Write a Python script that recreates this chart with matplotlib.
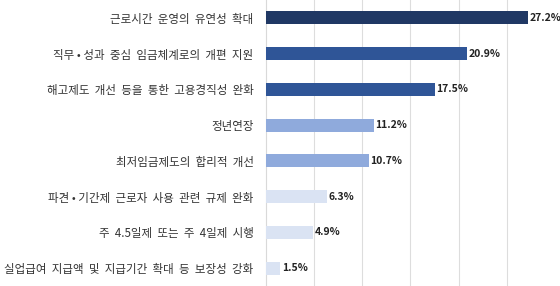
import matplotlib.pyplot as plt

plt.rcParams['font.family'] = ['Noto Sans CJK KR', 'DejaVu Sans']

# 항목 (위에서 아래 순서)
labels = [
    '근로시간  운영의  유연성  확대',
    '직무 • 성과  중심  임금체계로의  개편  지원',
    '해고제도  개선  등을  통한  고용경직성  완화',
    '정년연장',
    '최저임금제도의  합리적  개선',
    '파견 • 기간제  근로자  사용  관련  규제  완화',
    '주  4.5일제  또는  주  4일제  시행',
    '실업급여  지급액  및  지급기간  확대  등  보장성  강화',
]
values = [27.2, 20.9, 17.5, 11.2, 10.7, 6.3, 4.9, 1.5]
colors = ['#203864', '#2F5597', '#2F5597', '#8FAADC', '#8FAADC',
          '#DAE3F3', '#DAE3F3', '#DAE3F3']

fig = plt.figure(figsize=(5.6, 2.86), dpi=100)
ax = fig.add_axes([0.475, 0.0, 0.516, 1.0])

y = list(range(len(labels)))
ax.barh(y, values, height=0.36, color=colors, zorder=3)

for yi, v in zip(y, values):
    ax.text(v + 0.15, yi, f'{v}%', va='center', ha='left', fontsize=7.5,
            fontweight='semibold', color='#222222', zorder=4)

ax.set_xlim(0, 30)
ax.set_ylim(len(labels) - 0.5, -0.5)
ax.set_xticks([5, 10, 15, 20, 25])
ax.set_yticks(y)
ax.set_yticklabels(labels, fontsize=8.3, color='#333333')
ax.tick_params(axis='y', length=0, pad=9)
ax.tick_params(axis='x', length=0, labelbottom=False)
ax.grid(axis='x', color='#DDDDDD', linewidth=0.8, zorder=0)

for s in ['top', 'right', 'bottom']:
    ax.spines[s].set_visible(False)
ax.spines['left'].set_color('#D9D9D9')

fig.savefig('out.png', dpi=100)
